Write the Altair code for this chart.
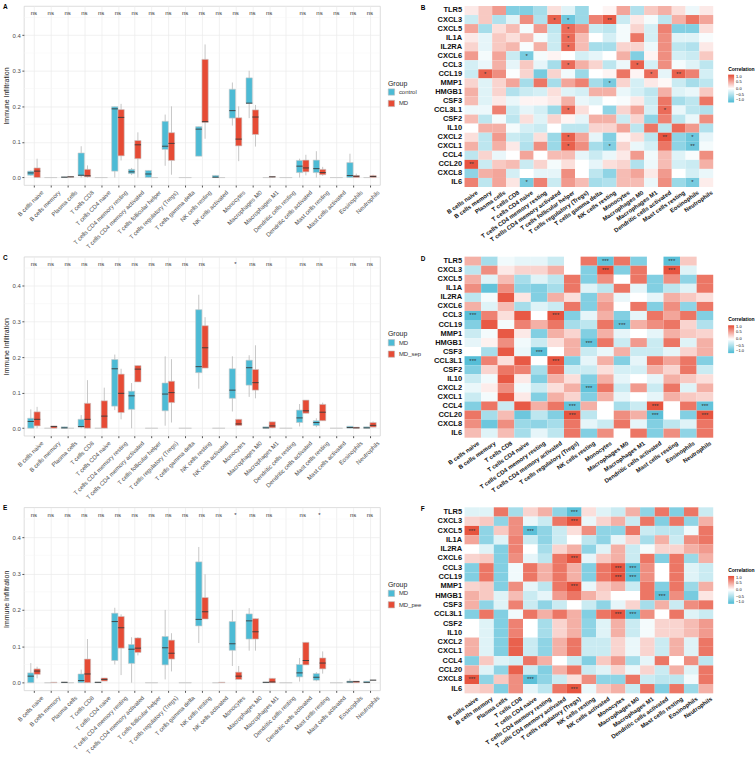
import json
import altair as alt
import pandas as pd

CELLS = ["B cells naive", "B cells memory", "Plasma cells", "T cells CD8", "T cells CD4 naive",
         "T cells CD4 memory resting", "T cells CD4 memory activated", "T cells follicular helper",
         "T cells regulatory (Tregs)", "T cells gamma delta", "NK cells resting", "NK cells activated",
         "Monocytes", "Macrophages M0", "Macrophages M1", "Dendritic cells resting",
         "Dendritic cells activated", "Mast cells resting", "Mast cells activated", "Eosinophils", "Neutrophils"]

Z = (0, 0, 0, 0, 0)

# box statistics: (lower whisker, q1, median, q3, upper whisker)
A_GROUPS = ["control", "MD"]
A_CONTROL = [(0.005, 0.0065, 0.013, 0.018, 0.02), Z, (0, 0, 0.001, 0.002, 0.002), (0, 0.005, 0.0065, 0.069, 0.088), Z,
             (0, 0.018, 0.193, 0.199, 0.199), (0.007, 0.011, 0.016, 0.023, 0.027), (0, 0, 0.010, 0.020, 0.020),
             (0.033, 0.079, 0.088, 0.158, 0.177), Z, (0.06, 0.060, 0.136, 0.143, 0.143), (0, 0, 0.001, 0.006, 0.006),
             (0.146, 0.167, 0.188, 0.248, 0.267), (0.167, 0.208, 0.209, 0.280, 0.300), Z, Z,
             (0, 0.014, 0.032, 0.048, 0.053), (0, 0.014, 0.025, 0.049, 0.074), Z, (0, 0, 0.0056, 0.042, 0.067), Z]
A_MD = [(0, 0, 0.018, 0.027, 0.053), Z, (0, 0.001, 0.002, 0.003, 0.003), (0, 0.002, 0.005, 0.023, 0.034), Z,
        (0.048, 0.061, 0.169, 0.191, 0.207), (0, 0.053, 0.092, 0.104, 0.127), Z,
        (0.008, 0.048, 0.096, 0.126, 0.2), Z, (0.109, 0.155, 0.157, 0.332, 0.374), Z,
        (0.046, 0.089, 0.108, 0.168, 0.2), (0.087, 0.121, 0.17, 0.190, 0.204), (0, 0.001, 0.002, 0.003, 0.003), Z,
        (0.006, 0.016, 0.027, 0.049, 0.064), (0.005, 0.008, 0.014, 0.023, 0.03), Z,
        (0, 0, 0.0037, 0.0056, 0.011), (0, 0, 0.003, 0.0056, 0.008)]
A_SIG = ["ns"] * 15 + [""] + ["ns"] * 5

C_GROUPS = ["MD", "MD_sep"]
C_MD = [(0, 0, 0.019, 0.028, 0.053), Z, (0, 0, 0.001, 0.004, 0.004), (0, 0.003, 0.0047, 0.025, 0.037), Z,
        (0.051, 0.062, 0.167, 0.193, 0.207), (0, 0.053, 0.091, 0.104, 0.127), Z,
        (0.007, 0.049, 0.096, 0.127, 0.202), Z, (0.111, 0.156, 0.173, 0.333, 0.375), Z,
        (0.047, 0.084, 0.107, 0.167, 0.202), (0.088, 0.121, 0.17, 0.191, 0.205), (0, 0, 0.001, 0.004, 0.004), Z,
        (0.005, 0.016, 0.029, 0.051, 0.068), (0.003, 0.0075, 0.016, 0.021, 0.028), Z,
        (0, 0, 0.002, 0.0056, 0.0056), (0, 0, 0.001, 0.004, 0.004)]
C_SEP = [(0, 0.0065, 0.025, 0.046, 0.06), (0, 0, 0.0047, 0.0065, 0.0065), Z, (0, 0, 0.025, 0.07, 0.135),
         (0, 0, 0.034, 0.077, 0.114), (0.025, 0.044, 0.098, 0.152, 0.167), (0.130, 0.130, 0.166, 0.176, 0.176), Z,
         (0.016, 0.072, 0.1, 0.132, 0.194), Z, (0.169, 0.169, 0.226, 0.288, 0.312), Z,
         (0.0075, 0.0075, 0.012, 0.025, 0.025), (0.084, 0.107, 0.128, 0.165, 0.233), (0, 0.001, 0.0065, 0.018, 0.018), Z,
         (0.042, 0.042, 0.049, 0.079, 0.079), (0.021, 0.021, 0.045, 0.067, 0.072), Z,
         (0, 0, 0.001, 0.003, 0.003), (0.003, 0.003, 0.008, 0.016, 0.019)]
C_SIG = ["ns"] * 11 + ["", "*", "ns", "ns", "", "ns", "ns", "", "ns", "ns"]

E_GROUPS = ["MD", "MD_pee"]
E_MD = [(0, 0, 0.018, 0.027, 0.054), Z, (0, 0, 0.001, 0.002, 0.002), (0, 0, 0.006, 0.024, 0.036), (0, 0, 0.001, 0.002, 0.002),
        (0.05, 0.061, 0.168, 0.191, 0.206), (0, 0.053, 0.092, 0.105, 0.125), Z,
        (0.009, 0.049, 0.096, 0.127, 0.2), Z, (0.109, 0.156, 0.174, 0.332, 0.373), Z,
        (0.046, 0.089, 0.107, 0.168, 0.2), (0.088, 0.12, 0.17, 0.189, 0.205), (0, 0, 0.001, 0.002, 0.002), Z,
        (0.003, 0.016, 0.027, 0.05, 0.068), (0.004, 0.007, 0.015, 0.025, 0.029), Z,
        (0, 0, 0.002, 0.0045, 0.011), (0, 0, 0.001, 0.004, 0.004)]
E_PEE = [(0.012, 0.023, 0.032, 0.038, 0.044), (0, 0, 0.001, 0.0015, 0.0015), Z, (0, 0, 0.024, 0.065, 0.12),
         (0.0045, 0.0045, 0.009, 0.013, 0.013), (0.021, 0.095, 0.151, 0.182, 0.188), (0.075, 0.083, 0.095, 0.123, 0.125), Z,
         (0.031, 0.065, 0.081, 0.117, 0.136), Z, (0.175, 0.175, 0.195, 0.234, 0.298), (0, 0, 0.001, 0.0015, 0.0015),
         (0.009, 0.009, 0.018, 0.029, 0.046), (0.088, 0.12, 0.14, 0.176, 0.176), (0, 0, 0.002, 0.012, 0.012), Z,
         (0.049, 0.049, 0.061, 0.111, 0.111), (0.025, 0.038, 0.054, 0.068, 0.086), Z,
         (0, 0, 0.003, 0.0045, 0.0045), (0.007, 0.007, 0.007, 0.007, 0.007)]
E_SIG = ["ns"] * 12 + ["*", "ns", "ns", "", "ns", "*", "", "ns", "ns"]

Y_TICKS = [0.0, 0.1, 0.2, 0.3, 0.4]
Y_MINOR = [0.05, 0.15, 0.25, 0.35, 0.45]

GENES = ["TLR5", "CXCL3", "CXCL5", "IL1A", "IL2RA", "CXCL6", "CCL3", "CCL19", "MMP1", "HMGB1",
         "CSF3", "CCL3L1", "CSF2", "IL10", "CXCL2", "CXCL1", "CCL4", "CCL20", "CXCL8", "IL6"]

B_COLS = ["B cells naive", "B cells memory", "Plasma cells", "T cells CD8", "T cells CD4 naive",
          "T cells CD4 memory resting", "T cells CD4 memory activated", "T cells follicular helper",
          "T cells regulatory (Tregs)", "T cells gamma delta", "NK cells resting", "Monocytes",
          "Macrophages M0", "Macrophages M1", "Dendritic cells activated", "Mast cells resting",
          "Eosinophils", "Neutrophils"]
B_VALS = [
    [0.12, 0.3, 0.56, -0.7, -0.7, -0.5, 0.18, -0.18, -0.56, 0.0, 0.06, 0.5, -0.44, 0.3, 0.44, 0.18, -0.1, 0.12],
    [-0.3, 0.3, -0.44, -0.18, 0.63, -0.44, 0.88, -0.82, -0.56, 0.7, 0.92, -0.3, 0.12, -0.06, -0.37, 0.44, 0.76, 0.5],
    [0.5, -0.5, 0.18, 0.37, -0.06, 0.56, -0.37, 0.82, 0.63, -0.3, -0.37, -0.06, 0.24, -0.24, 0.7, -0.7, -0.7, 0.18],
    [0.12, -0.14, 0.3, 0.18, 0.37, -0.06, -0.3, 0.82, 0.37, 0.0, -0.24, -0.06, 0.76, -0.24, 0.63, -0.18, -0.18, -0.04],
    [0.24, -0.14, 0.3, 0.4, -0.04, 0.44, -0.3, 0.82, 0.37, -0.5, -0.5, 0.24, 0.24, -0.1, 0.63, -0.37, -0.44, 0.12],
    [0.56, -0.06, 0.5, -0.3, -0.76, -0.06, 0.06, 0.0, -0.24, -0.14, 0.0, 0.44, -0.7, 0.06, 0.63, -0.24, -0.3, 0.3],
    [-0.24, -0.12, 0.44, -0.14, 0.3, -0.14, -0.5, 0.82, 0.44, 0.24, -0.37, -0.1, 0.88, -0.24, 0.63, -0.06, -0.18, -0.37],
    [-0.3, 0.88, 0.63, -0.02, 0.24, -0.76, 0.24, -0.08, -0.56, 0.0, 0.06, 0.76, 0.06, 0.82, -0.14, 0.88, 0.7, -0.24],
    [0.24, -0.18, 0.24, 0.5, -0.5, 0.76, -0.5, 0.5, 0.7, -0.5, -0.76, 0.24, -0.24, 0.12, 0.04, -0.3, -0.5, -0.37],
    [0.44, -0.18, 0.24, -0.44, -0.3, -0.24, 0.18, -0.18, -0.24, 0.44, 0.44, -0.12, -0.24, -0.37, 0.44, -0.18, -0.12, 0.3],
    [0.37, -0.18, 0.12, -0.12, 0.06, 0.06, 0.12, 0.44, -0.12, -0.18, 0.0, -0.04, 0.12, -0.3, 0.76, -0.5, -0.37, 0.76],
    [-0.1, -0.1, 0.7, -0.3, -0.14, -0.24, -0.56, 0.82, 0.18, 0.0, -0.63, 0.24, 0.5, -0.24, 0.82, -0.12, -0.37, -0.44],
    [0.37, -0.37, -0.06, -0.37, 0.18, -0.18, 0.24, 0.06, -0.14, 0.44, 0.44, -0.3, 0.24, -0.63, 0.7, -0.37, -0.12, 0.63],
    [0.0, 0.44, 0.44, -0.06, -0.24, -0.3, 0.0, -0.37, -0.37, 0.24, 0.24, 0.5, -0.37, 0.76, -0.37, 0.82, 0.56, -0.44],
    [0.18, -0.37, 0.56, -0.3, -0.37, 0.18, -0.56, 0.88, 0.5, -0.14, -0.7, 0.06, 0.18, -0.37, 0.95, -0.63, -0.82, -0.14],
    [0.44, -0.37, 0.44, 0.12, -0.44, 0.63, -0.56, 0.88, 0.63, -0.5, -0.7, 0.24, -0.12, -0.24, 0.76, -0.63, -0.82, -0.06],
    [-0.37, 0.24, -0.12, 0.0, 0.5, 0.0, 0.37, 0.37, -0.14, -0.3, -0.12, 0.12, 0.56, -0.08, 0.37, -0.18, -0.04, 0.63],
    [0.95, -0.3, 0.3, 0.37, -0.3, 0.24, -0.06, 0.18, 0.0, -0.14, 0.18, 0.24, -0.44, -0.1, 0.37, -0.24, -0.3, 0.44],
    [-0.63, 0.44, 0.5, -0.24, 0.0, -0.14, -0.14, 0.63, 0.0, -0.37, -0.63, 0.37, 0.5, 0.12, 0.56, 0.0, -0.24, -0.12],
    [0.7, -0.37, 0.5, 0.14, -0.76, 0.7, -0.3, 0.56, 0.37, -0.5, -0.44, 0.37, 0.37, -0.12, 0.63, -0.56, -0.76, 0.1],
]
B_SIG = [("CXCL3", 7, "*"), ("CXCL3", 8, "*"), ("CXCL3", 11, "**"), ("CXCL5", 8, "*"), ("IL1A", 8, "*"),
         ("IL2RA", 8, "*"), ("CXCL6", 5, "*"), ("CCL3", 8, "*"), ("CCL3", 13, "*"), ("CCL19", 2, "*"),
         ("CCL19", 14, "*"), ("CCL19", 16, "**"), ("MMP1", 11, "*"), ("CCL3L1", 8, "*"), ("CCL3L1", 15, "*"),
         ("CXCL2", 8, "*"), ("CXCL2", 15, "**"), ("CXCL2", 17, "*"), ("CXCL1", 8, "*"), ("CXCL1", 11, "*"),
         ("CXCL1", 17, "**"), ("CCL20", 1, "**"), ("IL6", 5, "*"), ("IL6", 17, "*")]

D_COLS = ["B cells naive", "B cells memory", "T cells CD8", "T cells CD4 naive", "T cells CD4 memory resting",
          "T cells CD4 memory activated", "T cells regulatory (Tregs)", "NK cells resting", "Monocytes",
          "Macrophages M0", "Macrophages M1", "Dendritic cells activated", "Mast cells resting",
          "Eosinophils", "Neutrophils"]
D_VALS = [
    [0.44, -0.5, -0.08, -0.14, -0.14, -0.3, None, 0.76, -0.88, 0.76, -0.7, None, -0.92, 0.3, None],
    [-0.37, 0.63, 0.12, 0.24, 0.24, 0.44, None, -0.7, 0.95, -0.7, 0.76, None, 0.95, -0.18, None],
    [0.44, -0.18, 0.37, -0.5, -0.18, -0.37, 0.76, -0.7, 0.63, 0.0, 0.76, -0.7, 0.63, -0.63, 0.76],
    [0.63, -0.88, 0.63, -0.63, -0.7, -0.5, 0.76, -0.18, -0.37, 0.76, -0.14, -0.7, -0.37, -0.18, 0.76],
    [-0.37, -0.06, 0.92, 0.14, -0.7, 0.44, 0.18, -0.7, 0.44, -0.12, 0.0, -0.14, 0.44, 0.3, 0.18],
    [0.44, -0.18, 0.37, -0.5, -0.18, -0.3, 0.76, -0.7, 0.56, 0.0, 0.76, -0.7, 0.63, -0.63, 0.76],
    [-0.95, 0.7, 0.18, 0.92, 0.0, 0.95, -0.7, -0.14, 0.44, -0.7, -0.14, 0.76, 0.5, 0.76, -0.7],
    [-0.7, 0.92, -0.06, 0.7, 0.44, 0.76, -0.5, -0.37, 0.76, -0.88, 0.44, 0.63, 0.76, 0.24, -0.44],
    [-0.3, -0.06, 0.92, 0.12, -0.7, 0.44, 0.24, -0.7, 0.44, -0.14, 0.0, -0.14, 0.44, 0.3, 0.24],
    [-0.14, 0.08, 0.63, -0.08, -0.3, 0.18, 0.44, -0.88, 0.76, -0.3, 0.56, -0.3, 0.76, -0.18, 0.44],
    [0.0, -0.5, 0.92, -0.12, -0.92, 0.0, 0.44, -0.3, -0.12, 0.44, -0.3, -0.3, -0.14, 0.24, 0.44],
    [-0.95, 0.7, 0.18, 0.92, 0.0, 0.95, -0.7, -0.14, 0.44, -0.7, -0.14, 0.76, 0.5, 0.76, -0.7],
    [-0.7, 0.24, 0.76, 0.7, -0.5, 0.82, -0.3, -0.3, 0.18, -0.24, -0.24, 0.44, 0.24, 0.76, -0.3],
    [-0.3, -0.08, 0.92, 0.12, -0.7, 0.44, 0.18, -0.7, 0.44, -0.14, 0.0, -0.14, 0.44, 0.3, 0.18],
    [-0.12, 0.1, 0.63, -0.08, -0.3, 0.18, 0.44, -0.88, 0.76, -0.3, 0.56, -0.3, 0.76, -0.18, 0.44],
    [-0.3, -0.06, 0.92, 0.12, -0.7, 0.44, 0.24, -0.7, 0.44, -0.14, 0.0, -0.14, 0.44, 0.3, 0.24],
    [-0.7, 0.76, -0.3, 0.92, 0.44, 0.76, -0.88, 0.44, 0.0, -0.5, -0.3, 0.95, 0.0, 0.76, -0.88],
    [0.76, -0.5, 0.37, -0.82, -0.37, -0.7, 0.95, -0.37, 0.0, 0.63, 0.44, -0.92, 0.0, -0.7, 0.95],
    [0.63, -0.82, 0.63, -0.56, -0.63, -0.5, 0.76, -0.14, -0.3, 0.76, -0.14, -0.7, -0.37, -0.18, 0.76],
    [0.37, -0.18, 0.37, -0.5, -0.14, -0.37, 0.76, -0.7, 0.63, 0.0, 0.76, -0.7, 0.63, -0.63, 0.76],
]
D_SIG = [("TLR5", 9, "***"), ("TLR5", 13, "***"), ("CXCL3", 9, "***"), ("CXCL3", 13, "***"),
         ("CCL3", 1, "***"), ("CCL3", 6, "***"), ("CCL19", 10, "***"), ("HMGB1", 8, "***"), ("CSF3", 5, "***"),
         ("CCL3L1", 1, "***"), ("CCL3L1", 6, "***"), ("CXCL2", 8, "***"), ("CCL4", 7, "***"), ("CCL4", 12, "***"),
         ("CCL4", 15, "***"), ("CCL20", 7, "***"), ("CCL20", 12, "***"), ("CCL20", 15, "***")]

F_COLS = ["B cells naive", "B cells memory", "Plasma cells", "T cells CD8", "T cells CD4 naive",
          "T cells CD4 memory resting", "T cells CD4 memory activated", "T cells regulatory (Tregs)",
          "NK cells resting", "NK cells activated", "Monocytes", "Macrophages M0", "Macrophages M1",
          "Dendritic cells activated", "Mast cells resting", "Eosinophils", "Neutrophils"]
F_VALS = [
    [-0.18, -0.18, 0.76, -0.5, 0.24, 0.44, -0.63, -0.92, 0.18, -0.18, -0.3, 0.44, -0.63, 0.76, -0.7, 0.76, -0.3],
    [0.24, 0.3, -0.63, 0.63, -0.12, -0.3, 0.76, 0.95, -0.12, 0.24, 0.44, -0.3, 0.76, -0.7, 0.76, -0.63, 0.44],
    [0.95, -0.63, 0.3, 0.63, -0.92, -0.63, -0.3, 0.18, 0.63, -0.63, -0.63, 0.76, -0.3, -0.37, -0.37, -0.08, 0.76],
    [0.5, -0.63, -0.18, 0.7, -0.3, -0.63, -0.3, 0.0, -0.37, -0.63, -0.14, 0.24, -0.5, 0.44, -0.3, 0.63, 0.76],
    [0.0, -0.18, -0.7, 0.7, 0.0, -0.5, 0.24, 0.44, -0.63, -0.18, 0.44, -0.3, -0.06, 0.24, 0.24, 0.44, 0.56],
    [0.24, 0.3, -0.7, 0.63, -0.14, -0.37, 0.76, 0.95, -0.14, 0.3, 0.44, -0.3, 0.76, -0.7, 0.76, -0.56, 0.44],
    [-0.7, 0.76, -0.7, -0.08, 0.76, 0.44, 0.76, 0.44, -0.7, 0.76, 0.95, -0.92, 0.63, 0.0, 0.76, -0.18, -0.3],
    [-0.7, 0.76, -0.7, -0.08, 0.76, 0.44, 0.76, 0.44, -0.7, 0.76, 0.95, -0.92, 0.63, 0.0, 0.76, -0.18, -0.3],
    [0.24, 0.3, -0.7, 0.63, -0.14, -0.37, 0.76, 0.95, -0.12, 0.3, 0.44, -0.3, 0.76, -0.7, 0.76, -0.56, 0.44],
    [0.44, 0.3, -0.18, 0.37, -0.3, -0.14, 0.56, 0.76, 0.44, 0.24, 0.0, 0.0, 0.76, -0.92, 0.63, -0.76, 0.14],
    [0.44, -0.63, -0.18, 0.7, -0.3, -0.63, -0.3, 0.0, -0.3, -0.63, -0.14, 0.24, -0.5, 0.44, -0.3, 0.63, 0.76],
    [-0.7, 0.76, -0.7, -0.08, 0.76, 0.44, 0.76, 0.44, -0.7, 0.76, 0.95, -0.92, 0.63, 0.0, 0.76, -0.18, -0.3],
    [0.0, -0.18, -0.7, 0.7, 0.0, -0.5, 0.24, 0.44, -0.63, -0.18, 0.44, -0.3, -0.06, 0.24, 0.24, 0.37, 0.56],
    [0.0, -0.18, -0.7, 0.7, 0.0, -0.5, 0.24, 0.44, -0.63, -0.18, 0.44, -0.3, -0.06, 0.24, 0.24, 0.37, 0.56],
    [0.44, -0.18, -0.7, 0.88, -0.3, -0.63, 0.44, 0.76, -0.3, -0.3, 0.24, -0.12, 0.24, -0.3, 0.44, -0.18, 0.76],
    [0.44, -0.18, -0.7, 0.88, -0.3, -0.63, 0.44, 0.76, -0.3, -0.3, 0.24, -0.12, 0.24, -0.3, 0.44, -0.18, 0.76],
    [-0.7, 0.3, -0.18, -0.24, 0.76, 0.44, 0.0, -0.3, -0.7, 0.3, 0.56, -0.5, -0.14, 0.76, 0.0, 0.63, -0.37],
    [0.44, -0.18, -0.63, 0.88, -0.3, -0.7, 0.44, 0.76, -0.3, -0.18, 0.24, -0.12, 0.24, -0.3, 0.44, -0.18, 0.76],
    [0.95, -0.63, 0.3, 0.63, -0.92, -0.63, -0.3, 0.18, 0.63, -0.63, -0.63, 0.76, -0.3, -0.37, -0.37, -0.08, 0.76],
    [0.24, 0.3, -0.7, 0.63, -0.14, -0.37, 0.76, 0.95, -0.12, 0.3, 0.44, -0.3, 0.76, -0.7, 0.76, -0.56, 0.44],
]
F_SIG = [("TLR5", 8, "***"), ("CXCL3", 8, "***"), ("CXCL5", 1, "***"), ("CXCL5", 5, "***"), ("CXCL6", 8, "***"),
         ("CCL3", 11, "***"), ("CCL3", 12, "***"), ("CCL19", 11, "***"), ("CCL19", 12, "***"), ("MMP1", 8, "***"),
         ("HMGB1", 14, "***"), ("CCL3L1", 11, "***"), ("CCL3L1", 12, "***"), ("CXCL8", 1, "***"),
         ("CXCL8", 5, "***"), ("IL6", 8, "***")]

BOX_COLORS = ["#4DBBD5", "#E64B35"]
HEAT_RANGE = ["#4DBBD5", "#FFFFFF", "#E64B35"]
FONT = "Liberation Sans"

BOX_W = 358
HEAT_W = 250
DODGE = 0.375  # width of each box in category units


def box_panel(letter, groups, stats1, stats2, sig, height):
    rows = []
    for gi, (g, stats) in enumerate(zip(groups, [stats1, stats2])):
        for ci, (cell, (lo, q1, med, q3, hi)) in enumerate(zip(CELLS, stats)):
            idx = ci + 1
            left = idx - DODGE + gi * DODGE
            rows.append(dict(cell=cell, group=g, xl=left, xr=left + DODGE, xc=left + DODGE / 2,
                             lo=lo, q1=q1, med=med, q3=q3, hi=hi))
    df = pd.DataFrame(rows)
    df_med = df[df["q3"] >= 0.002]
    df_sig = pd.DataFrame({"idx": list(range(1, len(CELLS) + 1)), "sig": sig})
    df_sig = df_sig[df_sig["sig"] != ""]
    df_minor = pd.DataFrame({"v": Y_MINOR})

    yscale = alt.Scale(domain=[-0.021, 0.482], nice=False, zero=False)
    yaxis = alt.Axis(values=Y_TICKS, format=".1f", labelFontSize=6, labelColor="#4D4D4D",
                     title="Immune Infiltration", titleFontSize=7, titleFontWeight="normal",
                     titleColor="#1A1A1A", titlePadding=3, tickSize=2, tickColor="#555555",
                     domain=False, grid=True, gridColor="#EBEBEB", gridWidth=0.7, labelPadding=1.5)
    xscale = alt.Scale(domain=[0.4, len(CELLS) + 0.6], nice=False, zero=False)
    label_expr = "%s[datum.value - 1]" % json.dumps(CELLS)
    xaxis = alt.Axis(title=None, values=list(range(1, len(CELLS) + 1)), labelExpr=label_expr,
                     labelAngle=-45, labelAlign="right", labelBaseline="top",
                     labelFontSize=6, labelColor="#4D4D4D", labelOffset=6, labelPadding=2,
                     tickSize=2, tickColor="#555555", domain=False, grid=True,
                     gridColor="#EBEBEB", gridWidth=0.7, labelOverlap=False, labelLimit=200,
                     labelFlush=False, labelBound=False)

    minor = alt.Chart(df_minor).mark_rule(color="#F4F4F4", strokeWidth=0.5).encode(
        y=alt.Y("v:Q", scale=yscale, axis=yaxis))
    whisk = alt.Chart(df).mark_rule(color="#B8B8B8", strokeWidth=0.8).encode(
        x=alt.X("xc:Q", scale=xscale, axis=xaxis), y=alt.Y("lo:Q", scale=yscale, axis=yaxis), y2="hi:Q")
    boxes = alt.Chart(df).mark_rect(stroke="#C8C8C8", strokeWidth=0.6).encode(
        x=alt.X("xl:Q", scale=xscale, axis=xaxis), x2="xr:Q",
        y=alt.Y("q1:Q", scale=yscale, axis=yaxis), y2="q3:Q",
        color=alt.Color("group:N", sort=groups, scale=alt.Scale(domain=groups, range=BOX_COLORS),
                        legend=alt.Legend(title="Group", orient="none", legendX=366, legendY=74,
                                          titleFontSize=7, titleFontWeight="normal", titleColor="#1A1A1A",
                                          labelFontSize=6, labelColor="#333333", symbolType="square",
                                          symbolSize=40, symbolStrokeColor="#BBBBBB", symbolStrokeWidth=0.6,
                                          rowPadding=2.5, titlePadding=2, labelOffset=4)))
    meds = alt.Chart(df_med).mark_rule(color="#3A3A3A", strokeWidth=0.9).encode(
        x=alt.X("xl:Q", scale=xscale, axis=xaxis), x2="xr:Q",
        y=alt.Y("med:Q", scale=yscale, axis=yaxis))
    sigt = alt.Chart(df_sig).mark_text(fontSize=6, color="#333333", font=FONT).encode(
        x=alt.X("idx:Q", scale=xscale, axis=xaxis), y=alt.datum(0.462), text="sig:N")
    lab = alt.Chart(pd.DataFrame({"t": [letter]})).mark_text(
        fontSize=6.5, fontWeight="bold", align="left", baseline="top", font=FONT, color="black").encode(
        x=alt.value(-21), y=alt.value(-2), text="t:N")
    return alt.layer(minor, whisk, boxes, meds, sigt, lab).properties(
        width=BOX_W, height=height, view=alt.ViewBackground(stroke="#D4D4D4", strokeWidth=0.8))


def heat_panel(letter, cols, vals, sig, height):
    rows = []
    for g, rv in zip(GENES, vals):
        for c, v in zip(cols, rv):
            if v is not None:
                rows.append(dict(gene=g, cell=c, r=v))
    df = pd.DataFrame(rows)
    df_sig = pd.DataFrame([dict(gene=g, cell=cols[i - 1], s=s) for g, i, s in sig])
    x = alt.X("cell:N", sort=cols, scale=alt.Scale(domain=cols, paddingInner=0, paddingOuter=0),
              axis=alt.Axis(title=None, labelAngle=-35, labelAlign="right", labelBaseline="top",
                            labelFontSize=6, labelFontWeight="bold", labelColor="#111111",
                            labelOffset=4, labelPadding=2, ticks=False, domain=False,
                            labelOverlap=False, labelLimit=200))
    y = alt.Y("gene:N", sort=GENES, scale=alt.Scale(domain=GENES, paddingInner=0, paddingOuter=0),
              axis=alt.Axis(title=None, labelFontSize=7.5, labelFontWeight="bold", labelColor="#111111",
                            ticks=False, domain=False, labelPadding=3, labelOverlap=False))
    rect = alt.Chart(df).mark_rect().encode(
        x=x, y=y,
        color=alt.Color("r:Q", scale=alt.Scale(domain=[-1, 0, 1], range=HEAT_RANGE, interpolate="rgb"),
                        legend=alt.Legend(title="Correlation", orient="none", legendX=265, legendY=61,
                                          gradientLength=28, gradientThickness=6, titleFontSize=5,
                                          titleFontWeight="bold", labelFontSize=4,
                                          values=[-1, -0.5, 0, 0.5, 1], format=".1f", labelOffset=2,
                                          labelOverlap=False, titlePadding=3)))
    txt = alt.Chart(df_sig).mark_text(fontSize=6, color="#333333", font=FONT, baseline="middle").encode(
        x=x, y=y, text="s:N")
    lab = alt.Chart(pd.DataFrame({"t": [letter]})).mark_text(
        fontSize=6.5, fontWeight="bold", align="left", baseline="top", font=FONT, color="black").encode(
        x=alt.value(-44), y=alt.value(-1), text="t:N")
    return alt.layer(rect, txt, lab).properties(
        width=HEAT_W, height=height, view=alt.ViewBackground(stroke=None))


pA = box_panel("A", A_GROUPS, A_CONTROL, A_MD, A_SIG, 180)
pB = heat_panel("B", B_COLS, B_VALS, B_SIG, 182)
pC = box_panel("C", C_GROUPS, C_MD, C_SEP, C_SIG, 180)
pD = heat_panel("D", D_COLS, D_VALS, D_SIG, 182)
pE = box_panel("E", E_GROUPS, E_MD, E_PEE, E_SIG, 184)
pF = heat_panel("F", F_COLS, F_VALS, F_SIG, 187)

chart = alt.concat(pA, pB, pC, pD, pE, pF, columns=2, spacing={"row": 70, "column": 85},
                   bounds="flush").resolve_scale(color="independent", x="independent", y="independent"
                   ).resolve_legend(color="independent").properties(
    padding={"left": 1, "top": 1, "right": 0, "bottom": 0}
).configure(font=FONT).configure_view(stroke=None)

chart.save("out.html", embed_options={"renderer": "svg", "actions": False})
